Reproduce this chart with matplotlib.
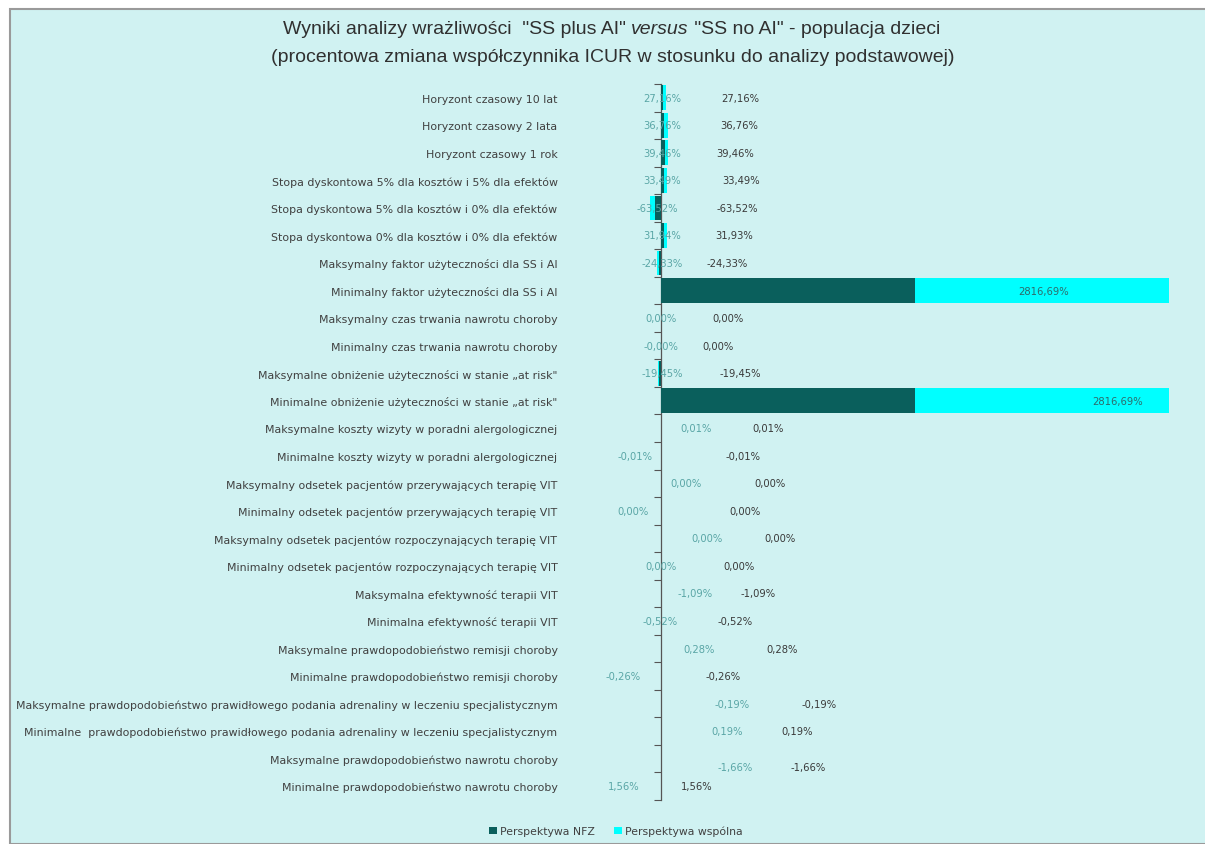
import numpy as np
import matplotlib
matplotlib.use("Agg")
import matplotlib.pyplot as plt
import matplotlib.patches as mpatches

# Categories, top to bottom
categories = [
    "Horyzont czasowy 10 lat",
    "Horyzont czasowy 2 lata",
    "Horyzont czasowy 1 rok",
    "Stopa dyskontowa 5% dla kosztów i 5% dla efektów",
    "Stopa dyskontowa 5% dla kosztów i 0% dla efektów",
    "Stopa dyskontowa 0% dla kosztów i 0% dla efektów",
    "Maksymalny faktor użyteczności dla SS i AI",
    "Minimalny faktor użyteczności dla SS i AI",
    "Maksymalny czas trwania nawrotu choroby",
    "Minimalny czas trwania nawrotu choroby",
    "Maksymalne obniżenie użyteczności w stanie \u201eat risk\"",
    "Minimalne obniżenie użyteczności w stanie \u201eat risk\"",
    "Maksymalne koszty wizyty w poradni alergologicznej",
    "Minimalne koszty wizyty w poradni alergologicznej",
    "Maksymalny odsetek pacjentów przerywających terapię VIT",
    "Minimalny odsetek pacjentów przerywających terapię VIT",
    "Maksymalny odsetek pacjentów rozpoczynających terapię VIT",
    "Minimalny odsetek pacjentów rozpoczynających terapię VIT",
    "Maksymalna efektywność terapii VIT",
    "Minimalna efektywność terapii VIT",
    "Maksymalne prawdopodobieństwo remisji choroby",
    "Minimalne prawdopodobieństwo remisji choroby",
    "Maksymalne prawdopodobieństwo prawidłowego podania adrenaliny w leczeniu specjalistycznym",
    "Minimalne  prawdopodobieństwo prawidłowego podania adrenaliny w leczeniu specjalistycznym",
    "Maksymalne prawdopodobieństwo nawrotu choroby",
    "Minimalne prawdopodobieństwo nawrotu choroby",
]

# % change of ICUR vs base case
nfz = [27.16, 36.76, 39.46, 33.49, -63.52, 31.93, -24.33, 2816.69, 0.00, 0.00,
       -19.45, 2816.69, 0.01, -0.01, 0.00, 0.00, 0.00, 0.00, -1.09, -0.52,
       0.28, -0.26, -0.19, 0.19, -1.66, 1.56]
wspolna = [27.16, 36.76, 39.46, 33.49, -63.52, 31.94, -24.33, 2816.69, 0.00, -0.00,
           -19.45, 2816.69, 0.01, -0.01, 0.00, 0.00, 0.00, 0.00, -1.09, -0.52,
           0.28, -0.26, -0.19, 0.19, -1.66, 1.56]
wspolna_text = ["27,16%", "36,76%", "39,46%", "33,49%", "-63,52%", "31,94%", "-24,33%",
                "2816,69%", "0,00%", "-0,00%", "-19,45%", "2816,69%", "0,01%", "-0,01%",
                "0,00%", "0,00%", "0,00%", "0,00%", "-1,09%", "-0,52%", "0,28%", "-0,26%",
                "-0,19%", "0,19%", "-1,66%", "1,56%"]
show_nfz_label = [True] * 26
show_nfz_label[7] = False
show_nfz_label[11] = False

# label placement (pixels from the zero line), as laid out by hand in the original
nfz_dx = [79, 78, 74, 80, 76, 73, 66, 0, 67, 57, 79, 0, 107, 82, 109, 84, 119, 78,
          97, 74, 121, 62, 158, 136, 147, 36]
wsp_dx = [1, 1, 1, 1, -4, 1, 1, 383, 0, 0, 1, 457, 35, -26, 25, -28, 46, 0, 34, -1,
          38, -38, 71, 66, 74, -37]
dy = [0] * 26
dy[24] = -8

C_NFZ = "#0a5f5c"
C_WSP = "#00ffff"
BG = "#d0f2f2"


def pl(v):
    return f"{v:.2f}%".replace(".", ",")


fig = plt.figure(figsize=(12.05, 8.45), dpi=100, facecolor="white")
fig.patches.append(mpatches.Rectangle((10 / 1205, 0), 1.2, 1 - 10 / 845,
                                      transform=fig.transFigure, facecolor=BG,
                                      edgecolor="#9a9a9a", linewidth=1.5, zorder=-5))

ax = fig.add_axes([570 / 1205, 1 - 801 / 845, 615 / 1205, 716 / 845])
ax.set_facecolor("none")
n = len(categories)
y = np.arange(n)
ax.barh(y, nfz, height=0.9, color=C_NFZ, label="Perspektywa NFZ")
ax.barh(y, wspolna, left=nfz, height=0.9, color=C_WSP, label="Perspektywa wspólna")

xmin, xmax = -1009, 5809
ax.set_xlim(xmin, xmax)
ax.set_ylim(n - 0.5, -0.5)
for s in ax.spines.values():
    s.set_visible(False)
ax.set_xticks([])
ax.set_yticks(y)
ax.set_yticklabels(categories, fontsize=7.9, color="#404040")
ax.tick_params(axis="y", length=0, pad=9)

# category axis drawn at zero with ticks between categories
zero_frac = (0 - xmin) / (xmax - xmin)
sec = ax.secondary_yaxis(zero_frac)
sec.set_yticks(np.arange(-0.5, n, 1.0))
sec.set_yticklabels([])
sec.tick_params(axis="y", direction="out", length=5, color="#555555", width=0.8)
sec.spines["left"].set_color("#555555")
sec.spines["left"].set_linewidth(0.9)

for i in range(n):
    if show_nfz_label[i]:
        ax.annotate(pl(nfz[i]), xy=(0, i), xytext=(nfz_dx[i], dy[i]),
                    textcoords="offset pixels", ha="center", va="center",
                    fontsize=7.2, color="#3a3a3a")
    col = "#2e6b6b" if i in (7, 11) else "#5aa6a6"
    ax.annotate(wspolna_text[i], xy=(0, i), xytext=(wsp_dx[i], dy[i]),
                textcoords="offset pixels", ha="center", va="center",
                fontsize=7.2, color=col)

# title with italic "versus"
tfont = ["Liberation Sans", "DejaVu Sans"]
tsize = 14
mid = fig.text(660 / 1205, 1 - 30 / 845, "versus", fontsize=tsize, style="italic",
               family=tfont, ha="center", va="center", color="#303030")
ax.annotate("Wyniki analizy wrażliwości  \"SS plus AI\" ", xy=(0, 0), xycoords=mid,
            ha="right", va="bottom", fontsize=tsize, family=tfont, color="#303030",
            annotation_clip=False)
ax.annotate(" \"SS no AI\" - populacja dzieci", xy=(1, 0), xycoords=mid,
            ha="left", va="bottom", fontsize=tsize, family=tfont, color="#303030",
            annotation_clip=False)
fig.text(613 / 1205, 1 - 57 / 845,
         "(procentowa zmiana współczynnika ICUR w stosunku do analizy podstawowej)",
         fontsize=tsize, family=tfont, ha="center", va="center", color="#303030")

fig.legend(loc="center", bbox_to_anchor=(616 / 1205, 13 / 845), ncol=2, frameon=False,
           fontsize=7.8, handlelength=0.7, handleheight=0.7, handletextpad=0.3,
           columnspacing=1.8, labelcolor="#404040")

fig.savefig("out.png", dpi=100, facecolor="white")
